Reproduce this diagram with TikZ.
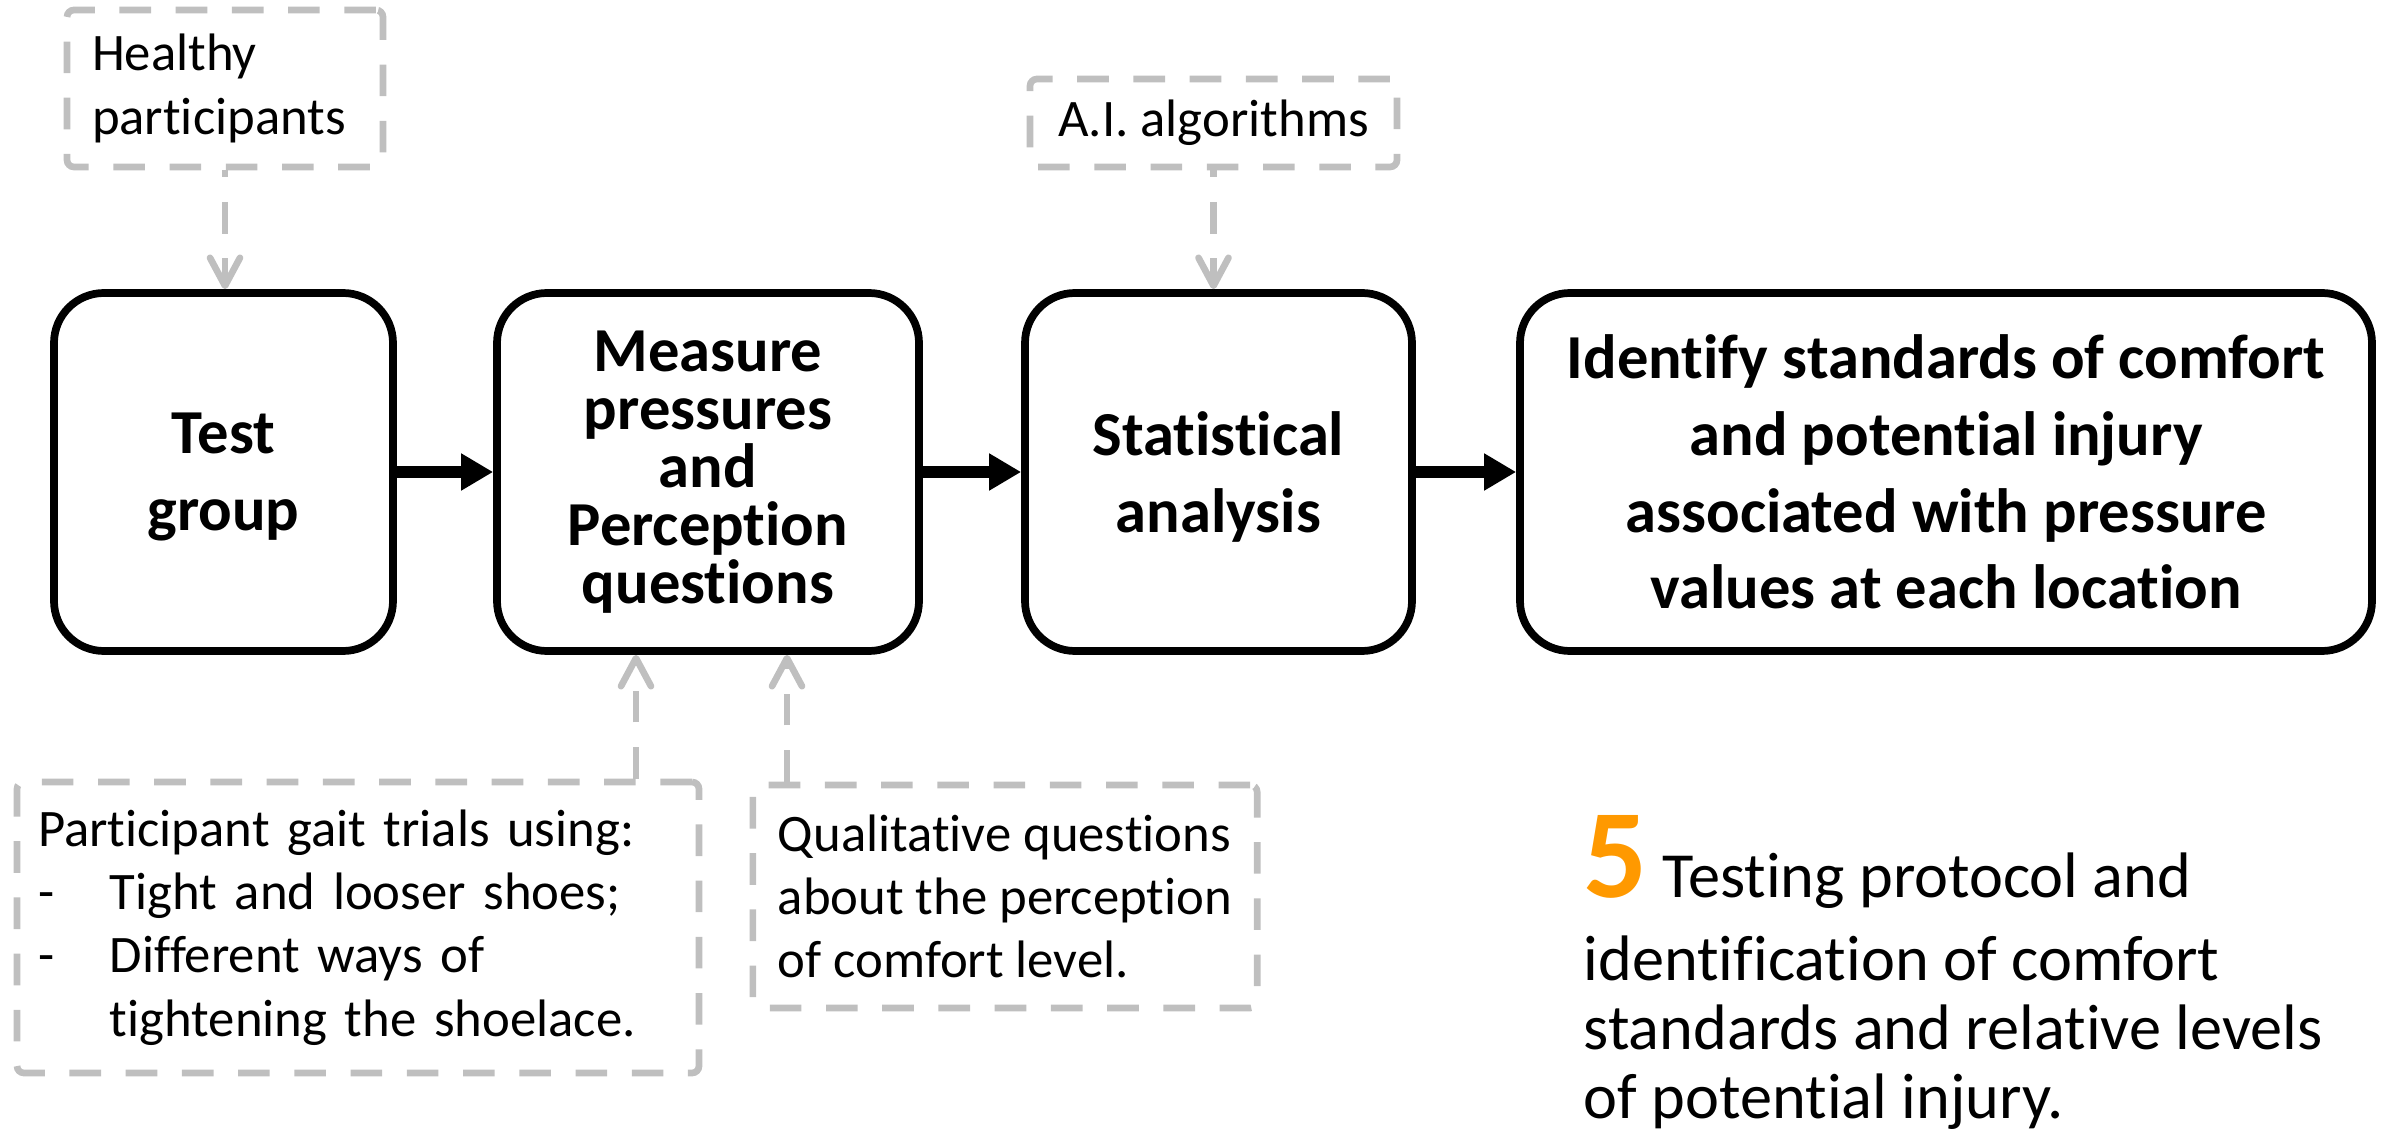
\documentclass[tikz,border=0pt]{standalone}
\usepackage{fontspec}
\setmainfont{Carlito}[Ligatures={NoCommon,NoRequired,NoContextual},Contextuals=NoAlternate,RawFeature=-ccmp]
\usetikzlibrary{arrows.meta,positioning,calc}
\definecolor{dashgray}{HTML}{BFBFBF}
\definecolor{numorange}{HTML}{FF9900}

\begin{document}
\begin{tikzpicture}[
  stage/.style={draw=black, line width=2.2pt, rounded corners=5mm, align=center,
                font=\fontsize{17.8}{21.8}\selectfont\bfseries,
                minimum height=3.58cm, inner sep=3pt},
  inbox/.style={draw=dashgray, line width=1.9pt, dash pattern=on 9pt off 7pt,
                rounded corners=2pt, font=\fontsize{15}{18}\selectfont,
                align=left, inner xsep=2.5mm},
  flow/.style={-{Triangle[length=3.2mm,width=3.5mm]}, line width=3.4pt},
  feed/.style={-{Straight Barb[length=2.8mm,width=3mm,round]}, dashgray,
               line width=1.9pt, dash pattern=on 9pt off 7pt},
]
\useasboundingbox (0,0) rectangle (23.87,11.31);

% ── Main chain ──────────────────────────────────────────────────────────
\node[stage, minimum width=3.39cm, text depth=0pt] (test) at (2.235,6.59) {Test\\group};
\node[stage, minimum width=4.22cm, font=\fontsize{17.8}{16.5}\selectfont\bfseries]
     (measure) at (7.08,6.59) {Measure\\pressures\\and\\Perception\\questions};
\node[stage, minimum width=3.87cm, text depth=0pt] (stat) at (12.185,6.59) {Statistical\\analysis};
\node[stage, minimum width=8.52cm] (ident) at (19.46,6.59)
     {Identify standards of comfort\\and potential injury\\associated with pressure\\values at each location};

\draw[flow] (test) -- (measure);
\draw[flow] (measure) -- (stat);
\draw[flow] (stat) -- (ident);

% ── Inputs ──────────────────────────────────────────────────────────────
\node[inbox, text width=2.66cm, minimum height=1.57cm] (healthy) at (2.25,10.425)
     {Healthy\\participants};
\node[inbox, align=center, minimum width=3.67cm, minimum height=0.88cm] (algo)
     at (12.135,10.08) {A.I. algorithms};
\node[inbox, text width=6.4cm, inner xsep=2.1mm, minimum height=2.91cm] (gait)
     at (3.58,2.035)
     {Participant gait trials using:\\
      \makebox[7.2mm][l]{-}Tight and looser shoes;\\
      \makebox[7.2mm][l]{-}Different ways of\\
      \hspace*{7.2mm}tightening the shoelace.};
\node[inbox, minimum width=5cm, minimum height=2.23cm] (qual) at (10.05,2.345)
     {Qualitative questions\\about the perception\\of comfort level.};

\coordinate (m1) at ([xshift=-7.2mm]measure.south);
\coordinate (m2) at ([xshift=7.9mm]measure.south);
\draw[feed, dash phase=7pt] (healthy.south) -- (healthy.south |- test.north);
\draw[feed, dash phase=7pt] (algo.south) -- (algo.south |- stat.north);
\draw[feed] (gait.north -| m1) -- (m1);
\draw[feed] (qual.north -| m2) -- (m2);

% ── Caption ─────────────────────────────────────────────────────────────
\node[anchor=north west, inner sep=0pt, align=left,
      font=\fontsize{18.3}{19.6}\selectfont] (caption) at (15.83,3.16)
     {{\fontsize{36}{36}\selectfont\bfseries\color{numorange}5} Testing protocol and\\[4pt]
      identification of comfort\\standards and relative levels\\of potential injury.};

\end{tikzpicture}
\end{document}
